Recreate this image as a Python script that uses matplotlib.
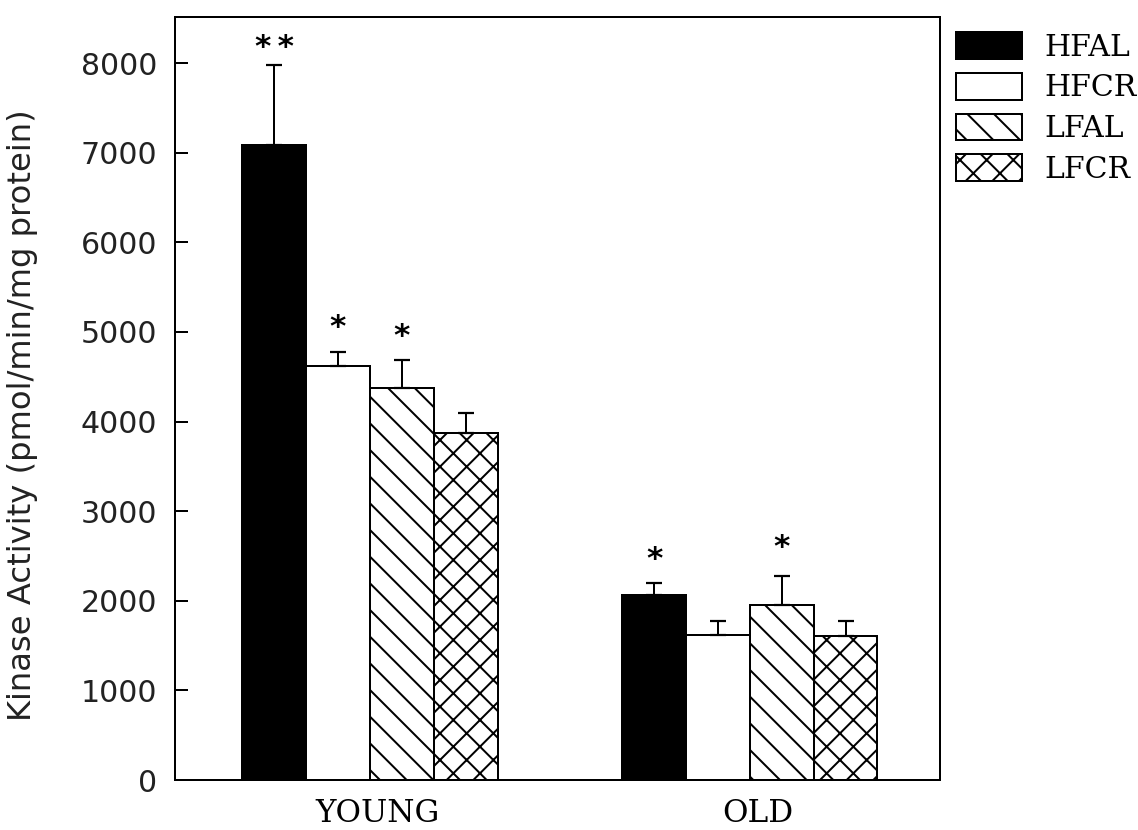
import numpy as np
import matplotlib
matplotlib.use("Agg")
import matplotlib.pyplot as plt

# values
groups = ["YOUNG", "OLD"]
diets = ["HFAL", "HFCR", "LFAL", "LFCR"]
young_mean = [7090, 4620, 4375, 3870]
young_err = [890, 157, 313, 226]
old_mean = [2070, 1620, 1950, 1610]
old_err = [125, 157, 324, 160]
young_stars = ["*\u2009*", "*", "*", ""]
old_stars = ["*", "", "*", ""]
# gap between error cap and the star mark, in data units
young_star_pad = [190, 270, 260, 0]
old_star_pad = [270, 0, 320, 0]

yticks = [0, 1000, 2000, 3000, 4000, 5000, 6000, 7000, 8000]

# fill / hatch per diet
faces = ["black", "white", "white", "white"]
hatches = ["", "", "\\\\", "xx"]

DPI = 160
plt.rcParams["hatch.linewidth"] = 0.9

fig = plt.figure(figsize=(1138 / DPI, 830 / DPI), dpi=DPI)
ax = fig.add_axes([0.1538, 0.0602, 0.672, 0.9193])

width = 0.168
x = np.arange(len(groups))
means = np.array([young_mean, old_mean])
errs = np.array([young_err, old_err])
stars = [young_stars, old_stars]
pads = [young_star_pad, old_star_pad]

handles = []
for i, diet in enumerate(diets):
    pos = x + (i - 1.5) * width
    b = ax.bar(pos, means[:, i], width, color=faces[i], edgecolor="black",
               linewidth=0.9, hatch=hatches[i], label=diet, zorder=2)
    handles.append(b)
    ax.errorbar(pos, means[:, i], yerr=[np.zeros(2), errs[:, i]], fmt="none",
                ecolor="black", elinewidth=0.9, capsize=3.4, capthick=1.0, zorder=3)
    for g in range(len(groups)):
        s = stars[g][i]
        if s:
            ax.text(pos[g], means[g, i] + errs[g, i] + pads[g][i], s, ha="center",
                    va="center", fontsize=14, fontweight="bold")

ax.set_xlim(-0.513, 1.5)
ax.set_ylim(0, 8515)
ax.set_yticks(yticks)
ax.set_yticklabels([str(t) for t in yticks], fontsize=13.5, color="#222222")
ax.tick_params(axis="y", direction="in", length=6, width=0.9, pad=8)
ax.set_xticks(x + 0.02)
ax.set_xticklabels(groups, fontsize=14, family="DejaVu Serif")
ax.tick_params(axis="x", length=0, pad=8)
for sp in ax.spines.values():
    sp.set_linewidth(0.9)

ax.set_ylabel("Kinase Activity (pmol/min/mg protein)", fontsize=14.5, color="#222222")
ax.yaxis.set_label_coords(-0.179, 0.478)

leg = ax.legend(handles=handles, loc="upper left", bbox_to_anchor=(956 / 1138, 1 - 32 / 830),
                bbox_transform=fig.transFigure, frameon=False, borderpad=0,
                borderaxespad=0, handlelength=2.2, handleheight=1.0, labelspacing=0.37,
                handletextpad=0.75, prop={"family": "DejaVu Serif", "size": 13.5})

fig.savefig("out.png", dpi=DPI)
